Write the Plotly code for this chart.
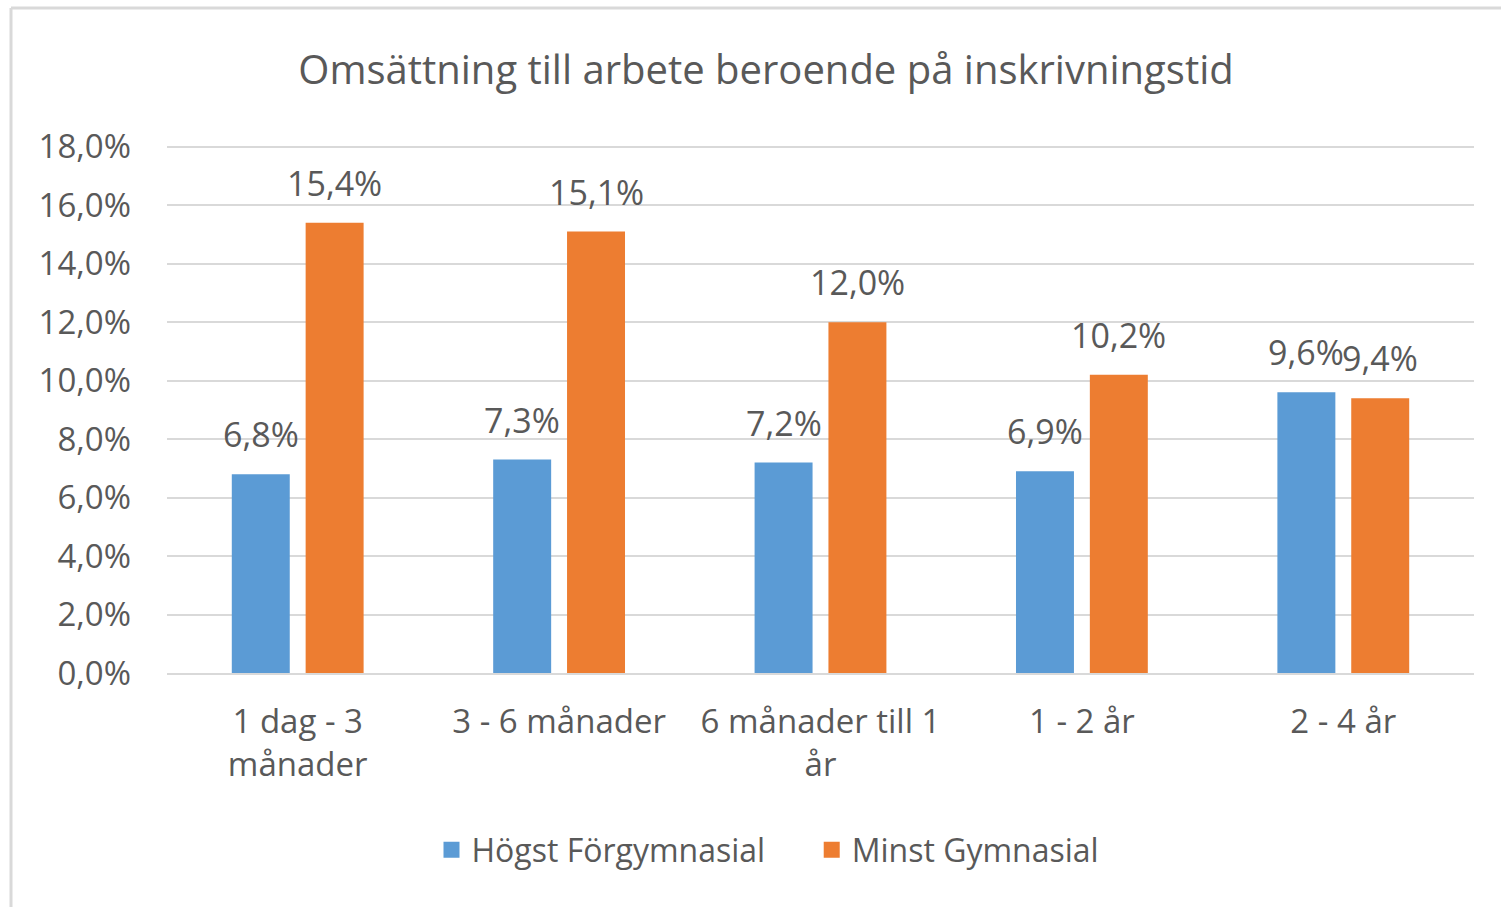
import plotly.graph_objects as go

categories = ["1 dag - 3<br>månader", "3 - 6 månader", "6 månader till 1<br>år", "1 - 2 år", "2 - 4 år"]
hogst_forgymnasial = [0.068, 0.073, 0.072, 0.069, 0.096]
minst_gymnasial = [0.154, 0.151, 0.120, 0.102, 0.094]
series_names = ["Högst Förgymnasial", "Minst Gymnasial"]
series_colors = ["#5B9BD5", "#ED7D31"]
title_text = "Omsättning till arbete beroende på inskrivningstid"

W, H = 1501, 907
ML, MR, MT, MB = 167, 27, 145, 234
FONT = "Open Sans"
GRAY = "#595959"
GRID = "#D9D9D9"
BARGAP, GROUPGAP = 0.435, 0.215

pw = W - ML - MR
ph = H - MT - MB

fig = go.Figure()
series = [hogst_forgymnasial, minst_gymnasial]
for name, vals, col in zip(series_names, series, series_colors):
    fig.add_trace(go.Bar(x=categories, y=vals, name=name, showlegend=False,
                         marker=dict(color=col, line=dict(width=0))))
# legend entries with larger square swatches
legend_labels = [series_names[0] + "\u00a0" * 5, series_names[1]]
for lab, col in zip(legend_labels, series_colors):
    fig.add_trace(go.Scatter(x=[None], y=[None], mode="markers", name=lab,
                             marker=dict(symbol="square", size=18, color=col)))

# data labels
slot = (1 - BARGAP) * pw / len(categories) / len(series)
annotations = []
for i, vals in enumerate(series):
    off = (i - (len(series) - 1) / 2) * slot
    for c, v in zip(categories, vals):
        annotations.append(dict(
            x=c, y=v, xref="x", yref="y", text=f"{v * 100:.1f}%".replace(".", ","),
            showarrow=False, xshift=off, yshift=40, yanchor="middle", xanchor="center",
            font=dict(family=FONT, size=34, color=GRAY)))

bx0 = (11 - ML) / pw
by1 = 1 + (MT - 8) / ph
by0 = -(H + 5 - MT - ph) / ph

fig.update_layout(
    width=W, height=H,
    margin=dict(l=ML, r=MR, t=MT, b=MB, pad=0),
    paper_bgcolor="white", plot_bgcolor="white",
    separators=", ",
    barmode="group", bargap=BARGAP, bargroupgap=GROUPGAP,
    font=dict(family=FONT, color=GRAY),
    title=dict(text=title_text, x=766 / W, xref="container", xanchor="center",
               y=1 - 70 / H, yref="container", yanchor="middle",
               font=dict(family=FONT, size=40, color=GRAY)),
    xaxis=dict(showline=True, linecolor=GRID, linewidth=2, ticks="",
               ticklabelstandoff=18,
               tickfont=dict(family=FONT, size=33, color=GRAY), showgrid=False),
    yaxis=dict(range=[0, 0.1806], tickvals=[i * 0.02 for i in range(10)], tickformat=".1%",
               showline=False, gridcolor=GRID, gridwidth=1.5, zeroline=False, ticks="",
               ticklabelstandoff=35,
               tickfont=dict(family=FONT, size=33, color=GRAY)),
    legend=dict(orientation="h", x=(768 - ML) / pw, xanchor="center",
                y=-(850 - (MT + ph)) / ph, yanchor="middle",
                font=dict(family=FONT, size=32, color=GRAY), itemwidth=30,
                itemsizing="trace"),
    annotations=annotations,
    shapes=[
        dict(type="line", xref="paper", yref="paper", x0=bx0, x1=bx0, y0=by0, y1=by1,
             line=dict(color=GRID, width=3), layer="above"),
        dict(type="line", xref="paper", yref="paper", x0=bx0, x1=1 + (MR + 5) / pw, y0=by1, y1=by1,
             line=dict(color=GRID, width=3), layer="above"),
    ],
)

fig.write_html("out.html", config={"displayModeBar": False},
               post_script="document.body.style.margin='0';")
